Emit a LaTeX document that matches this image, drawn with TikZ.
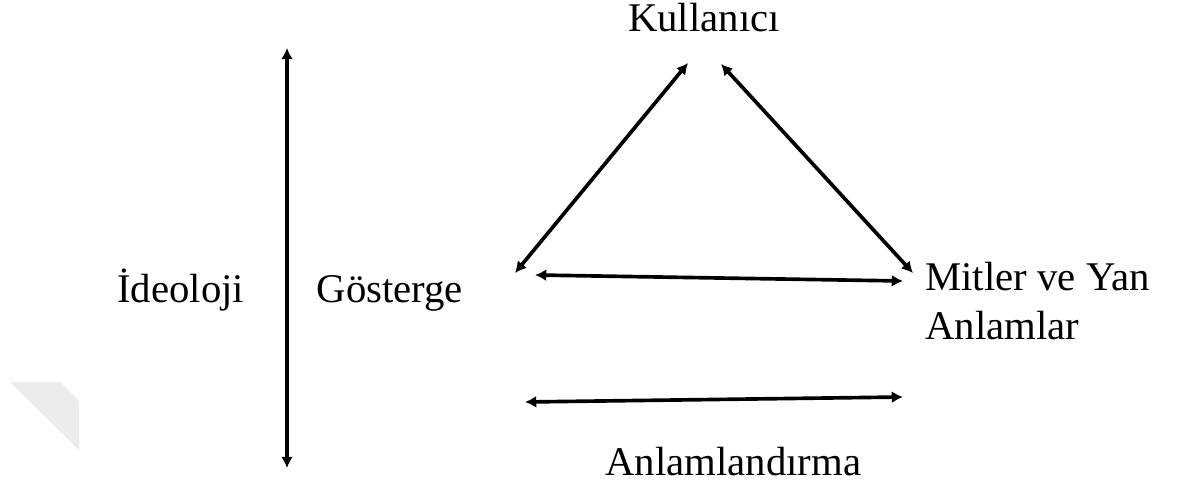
\documentclass[tikz,border=0pt]{standalone}
\usepackage{fontspec}
\setmainfont{Liberation Serif}
\usetikzlibrary{positioning}
\usetikzlibrary{arrows.meta}

\begin{document}
\begin{tikzpicture}[node distance=1cm,
        lbl/.style={inner sep=0pt,font=\fontsize{29}{35.5}\selectfont},
        arr/.style={line width=2.6pt,{Latex[length=8pt,width=8.5pt]}-{Latex[length=8pt,width=8.5pt]}}
        ]
        \useasboundingbox (0,0) rectangle (29.425,-12.425);
        \fill[gray!15] (0.25,-9.55) -- (1.5,-9.55) -- (1.975,-10.025) -- (1.975,-11.25) -- cycle;
        \node (user) [lbl,anchor=base] at (17.6,-0.8) {Kullanıcı};
        \node (ideo) [lbl,anchor=base west] at (2.925,-7.575) {İdeoloji};
        \node (sign) [lbl,base right=1.8cm of ideo] {Gösterge};
        \node (myth) [lbl,anchor=base west,align=left] at (23.125,-8.5) {Mitler ve Yan\\Anlamlar};
        \node (mean) [lbl,anchor=base] at (18.33,-11.875) {Anlamlandırma};
        % arrow ends
        \coordinate (vtop) at (7.175,-1.2);
        \coordinate (vbot) at (7.175,-11.7);
        \coordinate (ul) at (17.2,-1.575);
        \coordinate (ur) at (18.025,-1.6);
        \coordinate (sl) at (12.875,-6.825);
        \coordinate (mr) at (22.825,-6.825);
        \coordinate (hl) at (13.375,-6.875);
        \coordinate (hr) at (22.575,-7.025);
        \coordinate (bl) at (13.125,-10.05);
        \coordinate (br) at (22.575,-9.925);
        \draw[arr] (vtop) -- (vbot);
        \draw[arr] (sl) -- (ul);
        \draw[arr] (ur) -- (mr);
        \draw[arr] (hl) -- (hr);
        \draw[arr] (bl) -- (br);
\end{tikzpicture}
\end{document}
